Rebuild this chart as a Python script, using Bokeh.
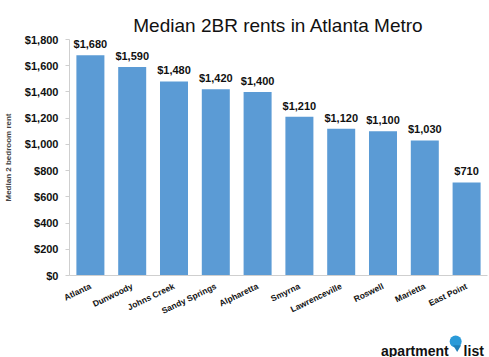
from bokeh.plotting import figure
from bokeh.layouts import column
from bokeh.models import ColumnDataSource, Range1d, NumeralTickFormatter, FixedTicker
from bokeh.core.properties import value
from bokeh.embed import file_html
from bokeh.resources import INLINE

cities = ["Atlanta", "Dunwoody", "Johns Creek", "Sandy Springs", "Alpharetta",
          "Smyrna", "Lawrenceville", "Roswell", "Marietta", "East Point"]
rents = [1680, 1590, 1480, 1420, 1400, 1210, 1120, 1100, 1030, 710]
y_ticks = [0, 200, 400, 600, 800, 1000, 1200, 1400, 1600, 1800]

labels = ["${:,}".format(v) for v in rents]
src = ColumnDataSource(dict(city=cities, rent=rents, lab=labels))

FONT = "Liberation Sans"

p = figure(x_range=cities, y_range=Range1d(0, 1800), width=489, height=333,
           output_backend="svg", toolbar_location=None,
           title="Median 2BR rents in Atlanta Metro",
           min_border_left=67, min_border_right=2, min_border_bottom=58, min_border_top=39)
p.x_range.range_padding = 0

p.vbar(x="city", top="rent", width=0.67, source=src, color="#5b9bd5", line_color=None)
p.text(x="city", y="rent", text="lab", source=src, text_align="center",
       text_baseline="bottom", y_offset=-5, text_font=value(FONT), text_font_style="bold",
       text_font_size="11px", text_color="#111111")

p.title.align = "center"
p.title.text_font = FONT
p.title.text_font_style = "normal"
p.title.text_font_size = "19px"
p.title.text_color = "#111111"
p.title.standoff = 8

p.xgrid.visible = False
p.ygrid.visible = False
p.outline_line_color = None

p.yaxis.ticker = FixedTicker(ticks=y_ticks)
p.yaxis.formatter = NumeralTickFormatter(format="$0,0")
p.yaxis.axis_label = "Median 2 bedroom rent"
p.yaxis.axis_label_text_font = FONT
p.yaxis.axis_label_text_font_style = "bold"
p.yaxis.axis_label_text_font_size = "8px"
p.yaxis.axis_label_standoff = 9
for ax in (p.xaxis[0], p.yaxis[0]):
    ax.axis_line_color = "#cfcfcf"
    ax.major_tick_line_color = "#cfcfcf"
    ax.minor_tick_line_color = None
    ax.major_tick_out = 4
    ax.major_tick_in = 0
    ax.major_label_text_font = FONT
    ax.major_label_text_font_style = "bold"
    ax.major_label_text_font_size = "11px"
    ax.major_label_text_color = "#111111"
p.yaxis.major_label_standoff = 7
p.xaxis.major_tick_line_color = None
p.xaxis.major_label_orientation = 0.45
p.xaxis.major_label_text_font_size = "8.5px"
p.xaxis.major_label_standoff = 6

# logo strip below the chart (its frame is aligned with the chart frame: 67..487 px)
logo = figure(width=489, height=24, x_range=Range1d(67, 487), y_range=Range1d(0, 24),
              output_backend="svg", toolbar_location=None,
              min_border_left=67, min_border_right=2, min_border_top=0, min_border_bottom=0)
logo.axis.visible = False
logo.grid.visible = False
logo.outline_line_color = None
logo.text(x=[380], y=[7], text=["apartment"], text_font=value(FONT), text_font_style="bold",
          text_font_size="14px", text_baseline="alphabetic", text_color="#111111")
logo.text(x=[463], y=[7], text=["list"], text_font=value(FONT), text_font_style="bold",
          text_font_size="14px", text_baseline="alphabetic", text_color="#111111")
logo.scatter(x=[455], y=[16], marker="circle", size=12, color="#2a9ad8", line_color=None)
logo.scatter(x=[456.5], y=[10], marker="inverted_triangle", size=8, color="#1f7fb8",
             line_color=None)

open("out.html", "w").write(file_html(column(p, logo, spacing=0), INLINE))
